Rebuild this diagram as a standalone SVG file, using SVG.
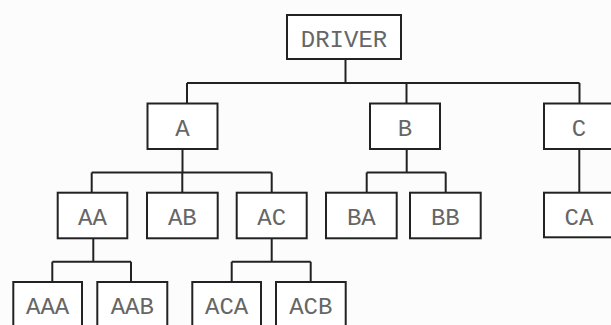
<svg xmlns="http://www.w3.org/2000/svg" width="611" height="325" viewBox="0 0 611 325">
<style>
.box{fill:#fff;stroke:#222;stroke-width:2}
.lbl{font-family:"Liberation Mono","DejaVu Sans Mono",monospace;font-size:24px;fill:#666;text-anchor:middle}
.con{fill:none;stroke:#222;stroke-width:2}
</style>
<rect width="611" height="325" fill="#fcfcfc"/>
<g id="connectors">
<path class="con" d="M345.5 59V83M187 83H579.5M187 83V103.5M406.5 83V103.5M579.5 83V103.5"/>
<path class="con" d="M182.5 149V172.5M91.7 172.5H271.7M91.7 172.5V193M182.3 172.5V193M271.7 172.5V193"/>
<path class="con" d="M406.7 149V172.5M366.7 172.5H445.7M366.7 172.5V193M445.7 172.5V193"/>
<path class="con" d="M579.3 149V193"/>
<path class="con" d="M93.3 238V261.7M52.3 261.7H131M52.3 261.7V282M131 261.7V282"/>
<path class="con" d="M271.7 238V261.7M231.7 261.7H310.7M231.7 261.7V282M310.7 261.7V282"/>
</g>
<g id="DRIVER"><rect class="box" x="287" y="15" width="114" height="44"/><text class="lbl" x="344" y="47">DRIVER</text></g>
<g id="A"><rect class="box" x="147.5" y="103.5" width="70" height="45.5"/><text class="lbl" x="182.5" y="136">A</text></g>
<g id="B"><rect class="box" x="370" y="103.5" width="70" height="45.5"/><text class="lbl" x="405" y="136">B</text></g>
<g id="C"><rect class="box" x="544" y="103.5" width="70" height="45.5"/><text class="lbl" x="579" y="136">C</text></g>
<g id="AA"><rect class="box" x="57.7" y="192.7" width="69.6" height="45.6"/><text class="lbl" x="92.5" y="225">AA</text></g>
<g id="AB"><rect class="box" x="147" y="192.7" width="70.7" height="45.6"/><text class="lbl" x="182.3" y="225">AB</text></g>
<g id="AC"><rect class="box" x="236.7" y="192.7" width="70" height="45.6"/><text class="lbl" x="271.7" y="225">AC</text></g>
<g id="BA"><rect class="box" x="326" y="192.7" width="70.7" height="45.6"/><text class="lbl" x="361.3" y="225">BA</text></g>
<g id="BB"><rect class="box" x="410" y="192.7" width="70.7" height="45.6"/><text class="lbl" x="445.3" y="225">BB</text></g>
<g id="CA"><rect class="box" x="544" y="192.7" width="70" height="44.6"/><text class="lbl" x="579" y="225">CA</text></g>
<g id="AAA"><rect class="box" x="13.3" y="282" width="68.7" height="45"/><text class="lbl" x="47.6" y="314">AAA</text></g>
<g id="AAB"><rect class="box" x="97.3" y="282" width="70" height="45"/><text class="lbl" x="132.3" y="314">AAB</text></g>
<g id="ACA"><rect class="box" x="192.3" y="282" width="68.7" height="45"/><text class="lbl" x="226.6" y="314">ACA</text></g>
<g id="ACB"><rect class="box" x="276" y="282" width="69.7" height="45"/><text class="lbl" x="310.8" y="314">ACB</text></g>
</svg>
